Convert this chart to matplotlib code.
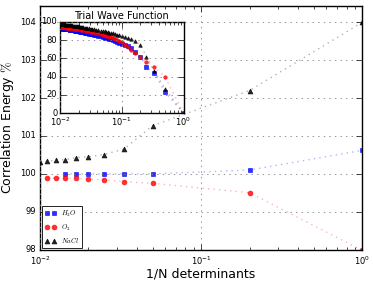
import numpy as np
import matplotlib
matplotlib.use("Agg")
import matplotlib.pyplot as plt

plt.style.use('classic')
plt.rcParams['figure.facecolor'] = 'white'
plt.rcParams['savefig.facecolor'] = 'white'
plt.rcParams['font.family'] = ['DejaVu Sans']
plt.rcParams['axes.formatter.useoffset'] = False

# main plot: 1/N determinants vs correlation energy %
x_h2o = [1/70, 1/60, 1/50, 1/40, 1/30, 1/20, 1/5, 1.0]
y_h2o = [100.0, 100.0, 100.0, 100.0, 100.0, 100.0, 100.1, 100.62]
x_o2 = [1/90, 1/80, 1/70, 1/60, 1/50, 1/40, 1/30, 1/20, 1/5, 1.0]
y_o2 = [99.90, 99.88, 99.89, 99.88, 99.86, 99.84, 99.79, 99.75, 99.50, 97.98]
x_nacl = [1/100, 1/90, 1/80, 1/70, 1/60, 1/50, 1/40, 1/30, 1/20, 1/5, 1.0]
y_nacl = [100.31, 100.33, 100.36, 100.37, 100.43, 100.45, 100.51, 100.66, 101.27, 102.20, 104.0]

# inset: trial wave function
n_inset = list(range(1, 21)) + list(range(22, 101, 2))
tw_h2o = [0, 23.3, 44.3, 50.2, 61.8, 66.6, 71.6, 73.5, 74.6, 76.0,
          77.3, 78.3, 79.2, 80.0, 80.7, 81.3, 81.8, 82.3, 82.7, 83.1,
          83.9, 84.6, 85.2, 85.7, 86.2, 86.7, 87.1, 87.5, 87.8, 88.2,
          88.5, 88.8, 89.1, 89.3, 89.6, 89.8, 90.0, 90.2, 90.4, 90.6,
          90.8, 91.0, 91.1, 91.3, 91.4, 91.6, 91.7, 91.8, 92.0, 92.1,
          92.2, 92.3, 92.4, 92.5, 92.6, 92.7, 92.8, 92.9, 93.0, 93.1]
tw_o2 = [0, 40.0, 51.0, 56.0, 61.0, 65.5, 69.0, 72.0, 75.0, 77.5,
         79.0, 80.3, 81.3, 82.2, 83.0, 83.7, 84.3, 84.9, 85.4, 85.8,
         86.6, 87.3, 87.9, 88.4, 88.9, 89.3, 89.7, 90.0, 90.3, 90.6,
         90.9, 91.1, 91.4, 91.6, 91.8, 92.0, 92.2, 92.3, 92.5, 92.6,
         92.8, 92.9, 93.0, 93.1, 93.3, 93.4, 93.5, 93.6, 93.7, 93.8,
         93.9, 94.0, 94.0, 94.1, 94.2, 94.3, 94.3, 94.4, 94.5, 94.5]
tw_nacl = [0, 27.0, 46.0, 62.0, 75.0, 78.5, 80.8, 82.2, 83.3, 84.4,
           85.2, 86.0, 86.6, 87.2, 87.7, 88.2, 88.6, 89.0, 89.4, 89.7,
           90.3, 90.8, 91.3, 91.7, 92.1, 92.5, 92.8, 93.1, 93.4, 93.7,
           94.0, 94.2, 94.4, 94.6, 94.8, 95.0, 95.2, 95.4, 95.5, 95.7,
           95.8, 96.0, 96.1, 96.2, 96.3, 96.4, 96.5, 96.6, 96.7, 96.8,
           96.9, 97.0, 97.1, 97.2, 97.3, 97.4, 97.4, 97.5, 97.6, 97.7]
x_inset = [1.0 / n for n in n_inset]

fig = plt.figure(figsize=(3.73, 2.86), dpi=100)
ax = fig.add_axes([0.107, 0.126, 0.864, 0.854])

ax.plot(x_h2o, y_h2o, ls=':', color=(0, 0, 1, 0.3), marker='s', ms=3.5,
        mfc=(0, 0, 1, 0.8), mec=(0, 0, 1, 0.8), label='$H_2O$')
ax.plot(x_o2, y_o2, ls=':', color=(1, 0, 0, 0.3), marker='o', ms=3.5,
        mfc=(1, 0, 0, 0.8), mec=(1, 0, 0, 0.8), label='$O_2$')
ax.plot(x_nacl, y_nacl, ls=':', color=(0, 0, 0, 0.3), marker='^', ms=3.5,
        mfc=(0, 0, 0, 0.85), mec=(0, 0, 0, 0.85), label='$NaCl$')

ax.set_xscale('log')
ax.set_xlim(0.01, 1)
ax.set_ylim(97.99, 104.44)
ax.set_yticks([98, 99, 100, 101, 102, 103, 104])
ax.grid(True, color='0.5', lw=0.6)
ax.tick_params(labelsize=6, pad=3)
ax.set_xlabel('1/N determinants', fontsize=9, labelpad=1)
ax.set_ylabel('Correlation Energy $\\%$', fontsize=9, labelpad=3)
leg = ax.legend(loc='lower left', numpoints=2, fontsize=5, borderaxespad=0.3,
                handlelength=1.6, labelspacing=0.5)
leg.get_frame().set_linewidth(0.6)

ins = fig.add_axes([0.161, 0.604, 0.331, 0.320])
ins.plot(x_inset, tw_h2o, ls=':', color=(0, 0, 1, 0.3), marker='s', ms=2.5,
         mfc=(0, 0, 1, 0.8), mec=(0, 0, 1, 0.8))
ins.plot(x_inset, tw_o2, ls=':', color=(1, 0, 0, 0.3), marker='o', ms=2.5,
         mfc=(1, 0, 0, 0.8), mec=(1, 0, 0, 0.8))
ins.plot(x_inset, tw_nacl, ls=':', color=(0, 0, 0, 0.3), marker='^', ms=2.5,
         mfc=(0, 0, 0, 0.85), mec=(0, 0, 0, 0.85))
ins.set_xscale('log')
ins.set_xlim(0.01, 1)
ins.set_ylim(0, 100)
ins.set_yticks([0, 20, 40, 60, 80, 100])
ins.grid(True, color='0.5', lw=0.6)
ins.tick_params(labelsize=6, pad=2)
ins.set_title('Trial Wave Function', fontsize=7, pad=2)

fig.savefig('out.png', dpi=100)
